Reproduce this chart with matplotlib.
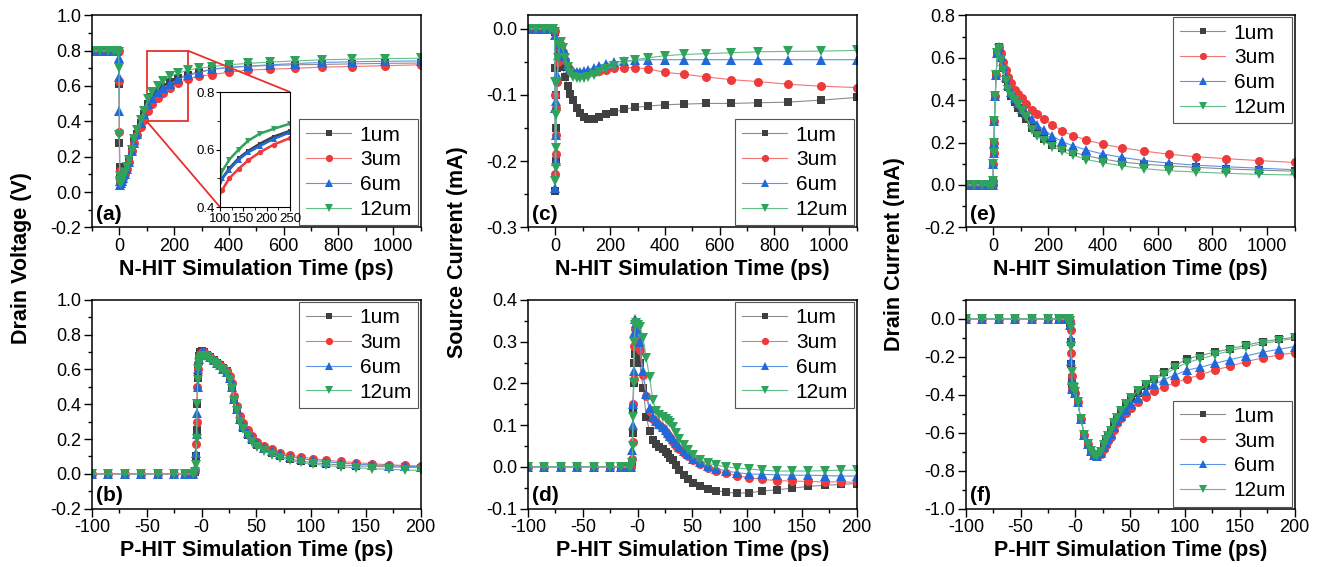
"""
Drain voltage / source current / drain current for N-HIT and P-HIT strikes
"""

# Imports:
import matplotlib
matplotlib.use('Agg')
import matplotlib.pyplot as plt
from matplotlib.ticker import MultipleLocator
from mpl_toolkits.axes_grid1.inset_locator import mark_inset

plt.rcParams['font.family'] = ['Liberation Sans', 'DejaVu Sans']
plt.rcParams['axes.unicode_minus'] = False

# Series styling
labels = ['1um', '3um', '6um', '12um']
colors = ['#404040', '#ee3a3a', '#2168d8', '#2fa35c']
line_colors = ['#8c8c8c', '#f27474', '#5d92e6', '#62bf87']
markers = ['s', 'o', '^', 'v']
marker_sizes = [6, 6.5, 7, 7]

# N-HIT time axis (ps)
t_n = [-100, -70, -40, -20, -8,
       -3, -1, 0, 1, 2,
       4, 7, 10, 15, 20,
       27, 35, 45, 55, 65,
       78, 90, 105, 120, 140,
       160, 185, 215, 250, 290,
       340, 400, 470, 550, 640,
       740, 850, 970, 1100]

# (a) drain voltage, N-HIT (V)
va_1 = [0.8, 0.8, 0.8, 0.8, 0.8,
        0.8, 0.61, 0.28, 0.14, 0.08,
        0.06, 0.06, 0.07, 0.09, 0.11,
        0.14, 0.18, 0.24, 0.29, 0.33,
        0.39, 0.44, 0.50, 0.535, 0.57,
        0.595, 0.62, 0.645, 0.665, 0.68,
        0.695, 0.705, 0.712, 0.716, 0.72,
        0.722, 0.725, 0.728, 0.73]
va_3 = [0.8, 0.8, 0.8, 0.8, 0.8,
        0.8, 0.63, 0.34, 0.12, 0.07,
        0.05, 0.05, 0.06, 0.08, 0.10,
        0.13, 0.17, 0.23, 0.28, 0.32,
        0.37, 0.41, 0.46, 0.50, 0.533,
        0.562, 0.59, 0.617, 0.64, 0.655,
        0.665, 0.678, 0.69, 0.695, 0.70,
        0.707, 0.71, 0.715, 0.72]
va_6 = [0.8, 0.8, 0.8, 0.8, 0.8,
        0.76, 0.65, 0.46, 0.10, 0.06,
        0.04, 0.05, 0.06, 0.08, 0.10,
        0.13, 0.17, 0.23, 0.28, 0.33,
        0.39, 0.44, 0.50, 0.53, 0.565,
        0.59, 0.612, 0.637, 0.66, 0.675,
        0.695, 0.705, 0.712, 0.72, 0.727,
        0.733, 0.737, 0.74, 0.742]
va_12 = [0.8, 0.8, 0.8, 0.8, 0.8,
         0.79, 0.70, 0.32, 0.09, 0.06,
         0.05, 0.05, 0.07, 0.09, 0.11,
         0.14, 0.18, 0.24, 0.30, 0.35,
         0.41, 0.46, 0.525, 0.565, 0.60,
         0.63, 0.655, 0.672, 0.69, 0.70,
         0.71, 0.72, 0.728, 0.735, 0.742,
         0.748, 0.752, 0.755, 0.757]

# (c) source current, N-HIT (mA)
ic_1 = [0, 0, 0, 0, 0,
        -0.005, -0.06, -0.245, -0.20, -0.15,
        -0.10, -0.06, -0.035, -0.025, -0.04,
        -0.058, -0.073, -0.087, -0.098, -0.108,
        -0.12, -0.128, -0.133, -0.136, -0.136,
        -0.133, -0.129, -0.126, -0.122, -0.119,
        -0.117, -0.115, -0.114, -0.113, -0.113,
        -0.112, -0.111, -0.108, -0.104]
ic_3 = [0, 0, 0, 0, 0,
        -0.003, -0.10, -0.22, -0.19, -0.16,
        -0.12, -0.08, -0.05, -0.03, -0.025,
        -0.035, -0.048, -0.058, -0.064, -0.067,
        -0.069, -0.069, -0.068, -0.067, -0.066,
        -0.064, -0.062, -0.060, -0.059, -0.059,
        -0.061, -0.066, -0.069, -0.073, -0.077,
        -0.080, -0.084, -0.087, -0.089]
ic_6 = [0, 0, 0, 0, 0,
        -0.01, -0.12, -0.24, -0.20, -0.16,
        -0.11, -0.07, -0.04, -0.025, -0.022,
        -0.03, -0.042, -0.053, -0.06, -0.064,
        -0.065, -0.065, -0.064, -0.062, -0.059,
        -0.056, -0.053, -0.051, -0.049, -0.048,
        -0.047, -0.047, -0.047, -0.047, -0.047,
        -0.047, -0.047, -0.047, -0.047]
ic_12 = [0, 0, 0, 0, 0,
         -0.005, -0.08, -0.23, -0.21, -0.18,
         -0.13, -0.08, -0.045, -0.025, -0.02,
         -0.03, -0.045, -0.058, -0.067, -0.073,
         -0.075, -0.075, -0.074, -0.073, -0.07,
         -0.066, -0.061, -0.056, -0.051, -0.047,
         -0.044, -0.041, -0.039, -0.038, -0.0365,
         -0.035, -0.0345, -0.034, -0.033]

# (e) drain current, N-HIT (mA)
ie_1 = [0, 0, 0, 0, 0,
        0.0, 0.02, 0.10, 0.15, 0.20,
        0.30, 0.42, 0.52, 0.62, 0.65,
        0.60, 0.55, 0.50, 0.46, 0.42,
        0.39, 0.365, 0.34, 0.31, 0.27,
        0.245, 0.215, 0.19, 0.173, 0.155,
        0.138, 0.122, 0.108, 0.098, 0.09,
        0.083, 0.076, 0.07, 0.065]
ie_3 = [0, 0, 0, 0, 0,
        0.0, 0.02, 0.10, 0.15, 0.20,
        0.30, 0.42, 0.52, 0.62, 0.65,
        0.62, 0.58, 0.54, 0.51, 0.48,
        0.45, 0.43, 0.41, 0.38, 0.355,
        0.335, 0.31, 0.285, 0.255, 0.233,
        0.212, 0.192, 0.175, 0.16, 0.145,
        0.133, 0.124, 0.115, 0.106]
ie_6 = [0, 0, 0, 0, 0,
        0.0, 0.02, 0.10, 0.15, 0.20,
        0.30, 0.42, 0.52, 0.62, 0.65,
        0.61, 0.56, 0.51, 0.47, 0.44,
        0.41, 0.385, 0.36, 0.34, 0.31,
        0.285, 0.26, 0.232, 0.205, 0.185,
        0.165, 0.146, 0.13, 0.115, 0.103,
        0.093, 0.086, 0.079, 0.072]
ie_12 = [0, 0, 0, 0, 0,
         0.0, 0.02, 0.10, 0.15, 0.20,
         0.30, 0.42, 0.52, 0.62, 0.64,
         0.59, 0.54, 0.49, 0.45, 0.42,
         0.40, 0.375, 0.35, 0.32, 0.26,
         0.23, 0.205, 0.181, 0.16, 0.14,
         0.12, 0.105, 0.09, 0.077, 0.067,
         0.061, 0.055, 0.05, 0.047]

# P-HIT time axis (ps)
t_p = [-100, -85, -70, -55, -40,
       -25, -15, -8, -6, -5,
       -4.5, -4, -3.5, -3, -2,
       -1, 0, 2, 5, 8,
       11, 14, 17, 20, 23,
       26, 28, 30, 32, 35,
       38, 42, 46, 51, 57,
       64, 72, 81, 91, 102,
       114, 127, 141, 156, 171,
       186, 200]

# (b) drain voltage, P-HIT (V)
vb_1 = [0, 0, 0, 0, 0,
        0, 0, 0, 0.01, 0.10,
        0.25, 0.40, 0.55, 0.62, 0.68,
        0.70, 0.705, 0.70, 0.685, 0.67,
        0.655, 0.64, 0.625, 0.61, 0.59,
        0.55, 0.50, 0.43, 0.37, 0.31,
        0.265, 0.225, 0.195, 0.165, 0.14,
        0.12, 0.10, 0.085, 0.073, 0.064,
        0.057, 0.051, 0.046, 0.043, 0.04,
        0.038, 0.036]
vb_3 = [0, 0, 0, 0, 0,
        0, 0, 0, 0.02, 0.17,
        0.30, 0.50, 0.60, 0.64, 0.67,
        0.69, 0.70, 0.70, 0.685, 0.67,
        0.655, 0.64, 0.625, 0.61, 0.59,
        0.56, 0.52, 0.45, 0.39, 0.33,
        0.29, 0.25, 0.215, 0.185, 0.16,
        0.14, 0.122, 0.108, 0.097, 0.087,
        0.078, 0.071, 0.064, 0.058, 0.052,
        0.048, 0.045]
vb_6 = [0, 0, 0, 0, 0,
        0, 0, 0, 0.03, 0.12,
        0.23, 0.35, 0.50, 0.60, 0.66,
        0.69, 0.70, 0.70, 0.685, 0.67,
        0.655, 0.64, 0.625, 0.605, 0.585,
        0.55, 0.50, 0.43, 0.37, 0.315,
        0.275, 0.235, 0.205, 0.175, 0.15,
        0.13, 0.112, 0.098, 0.087, 0.077,
        0.069, 0.062, 0.056, 0.051, 0.047,
        0.043, 0.04]
vb_12 = [0, 0, 0, 0, 0,
         0, 0, 0, 0.01, 0.05,
         0.20, 0.40, 0.54, 0.60, 0.64,
         0.66, 0.67, 0.675, 0.67, 0.655,
         0.64, 0.625, 0.61, 0.595, 0.575,
         0.54, 0.49, 0.42, 0.36, 0.30,
         0.255, 0.215, 0.185, 0.155, 0.13,
         0.11, 0.093, 0.078, 0.066, 0.056,
         0.048, 0.041, 0.035, 0.03, 0.026,
         0.022, 0.02]

# (d) source current, P-HIT (mA)
id_1 = [0, 0, 0, 0, 0,
        0, 0, 0, 0.0, 0.01,
        0.08, 0.14, 0.20, 0.25, 0.27,
        0.27, 0.265, 0.25, 0.19, 0.12,
        0.085, 0.064, 0.055, 0.048, 0.042,
        0.036, 0.03, 0.022, 0.016, 0.005,
        -0.008, -0.02, -0.03, -0.038, -0.046,
        -0.052, -0.057, -0.061, -0.063, -0.062,
        -0.058, -0.055, -0.051, -0.047, -0.044,
        -0.042, -0.04]
id_3 = [0, 0, 0, 0, 0,
        0, 0, 0, 0.0, 0.02,
        0.06, 0.15, 0.21, 0.29, 0.33,
        0.325, 0.31, 0.28, 0.22, 0.17,
        0.135, 0.115, 0.108, 0.10, 0.092,
        0.083, 0.076, 0.068, 0.06, 0.05,
        0.042, 0.033, 0.025, 0.016, 0.008,
        -0.002, -0.01, -0.015, -0.021, -0.026,
        -0.03, -0.033, -0.034, -0.035, -0.036,
        -0.036, -0.037]
id_6 = [0, 0, 0, 0, 0,
        0, 0, 0, 0.0, 0.04,
        0.10, 0.15, 0.23, 0.32, 0.355,
        0.345, 0.33, 0.30, 0.23, 0.175,
        0.14, 0.12, 0.11, 0.102, 0.095,
        0.088, 0.081, 0.073, 0.066, 0.056,
        0.047, 0.038, 0.03, 0.02, 0.011,
        0.003, -0.004, -0.01, -0.014, -0.017,
        -0.018, -0.019, -0.02, -0.02, -0.021,
        -0.022, -0.022]
id_12 = [0, 0, 0, 0, 0,
         0, 0, 0, 0.0, 0.01,
         0.05, 0.12, 0.20, 0.30, 0.34,
         0.345, 0.34, 0.335, 0.31, 0.26,
         0.215, 0.16, 0.135, 0.125, 0.12,
         0.115, 0.11, 0.104, 0.096, 0.08,
         0.066, 0.052, 0.04, 0.028, 0.017,
         0.009, 0.004, 0.0, -0.003, -0.005,
         -0.008, -0.01, -0.01, -0.01, -0.009,
         -0.008, -0.008]

# (f) drain current, P-HIT (mA)
if_1 = [0, 0, 0, 0, 0,
        0, 0, 0, 0.0, -0.02,
        -0.12, -0.24, -0.31, -0.37, -0.37,
        -0.375, -0.39, -0.44, -0.53, -0.61,
        -0.66, -0.695, -0.715, -0.72, -0.70,
        -0.665, -0.64, -0.615, -0.59, -0.55,
        -0.52, -0.485, -0.455, -0.42, -0.39,
        -0.355, -0.315, -0.28, -0.245, -0.21,
        -0.193, -0.176, -0.158, -0.138, -0.12,
        -0.107, -0.097]
if_3 = [0, 0, 0, 0, 0,
        0, 0, 0, 0.0, -0.01,
        -0.06, -0.18, -0.30, -0.37, -0.365,
        -0.37, -0.39, -0.44, -0.53, -0.61,
        -0.66, -0.695, -0.72, -0.725, -0.71,
        -0.685, -0.665, -0.645, -0.62, -0.585,
        -0.55, -0.52, -0.495, -0.47, -0.44,
        -0.41, -0.38, -0.36, -0.335, -0.315,
        -0.295, -0.27, -0.25, -0.225, -0.205,
        -0.19, -0.178]
if_6 = [0, 0, 0, 0, 0,
        0, 0, 0, 0.0, -0.03,
        -0.10, -0.22, -0.32, -0.37, -0.365,
        -0.37, -0.39, -0.44, -0.53, -0.61,
        -0.66, -0.695, -0.72, -0.725, -0.705,
        -0.675, -0.655, -0.63, -0.605, -0.57,
        -0.54, -0.51, -0.48, -0.45, -0.415,
        -0.38, -0.345, -0.32, -0.295, -0.27,
        -0.255, -0.235, -0.215, -0.195, -0.175,
        -0.16, -0.146]
if_12 = [0, 0, 0, 0, 0,
         0, 0, 0, 0.0, -0.01,
         -0.05, -0.15, -0.28, -0.36, -0.36,
         -0.365, -0.385, -0.44, -0.53, -0.61,
         -0.66, -0.695, -0.72, -0.725, -0.70,
         -0.665, -0.64, -0.615, -0.59, -0.55,
         -0.52, -0.485, -0.45, -0.415, -0.38,
         -0.35, -0.32, -0.295, -0.26, -0.23,
         -0.21, -0.19, -0.168, -0.148, -0.13,
         -0.115, -0.103]

# Bottom-row tick labels (as printed on the original)
p_ticks = [-100, -50, 0, 50, 100, 150, 200]
p_ticklabels = ['-100', '-50', '-0', '50', '100', '150', '200']


# Functions
def drawSeries(ax, t, series, scale=1.0, lw=0.8, lcols=line_colors):
    for ys, lab, col, lc, mk, ms in zip(series, labels, colors, lcols, markers, marker_sizes):
        ax.plot(t, ys, color=lc, lw=lw, marker=mk, ms=ms * scale, mfc=col, mew=0, label=lab)


def styleAxes(ax, ylim, ymajor, top_row, tag):
    ax.set_ylim(*ylim)
    ax.yaxis.set_major_locator(MultipleLocator(ymajor))
    ax.yaxis.set_minor_locator(MultipleLocator(ymajor / 2))
    if top_row:
        ax.set_xlim(-100, 1100)
        ax.set_xticks([0, 200, 400, 600, 800, 1000])
        ax.xaxis.set_minor_locator(MultipleLocator(100))
        ax.set_xlabel('N-HIT Simulation Time (ps)', fontsize=15.5, fontweight='bold', labelpad=3)
    else:
        ax.set_xlim(-100, 200)
        ax.set_xticks(p_ticks)
        ax.set_xticklabels(p_ticklabels)
        ax.xaxis.set_minor_locator(MultipleLocator(25))
        ax.set_xlabel('P-HIT Simulation Time (ps)', fontsize=15.5, fontweight='bold', labelpad=3)
    ax.tick_params(which='major', direction='out', length=5.5, width=1, labelsize=13, pad=2)
    ax.tick_params(which='minor', direction='out', length=3, width=1)
    for s in ax.spines.values():
        s.set_linewidth(1.1)
    ax.text(0.012, 0.015, tag, transform=ax.transAxes, fontsize=15, fontweight='bold',
            ha='left', va='bottom')


def addLegend(ax, loc):
    leg = ax.legend(loc=loc, fontsize=15, fancybox=False, framealpha=1, edgecolor='#555555',
                    handlelength=2.2, handletextpad=0.4, labelspacing=0.28,
                    borderpad=0.3, borderaxespad=0.1, markerscale=0.8)
    leg.get_frame().set_linewidth(0.8)


# Main:
fig = plt.figure(figsize=(13.22, 5.67), dpi=100)

lefts = [0.0696, 0.3994, 0.7307]
w = 0.2485
ax_a = fig.add_axes([lefts[0], 0.599, w, 0.374])
ax_c = fig.add_axes([lefts[1], 0.599, w, 0.374])
ax_e = fig.add_axes([lefts[2], 0.599, w, 0.374])
ax_b = fig.add_axes([lefts[0], 0.103, w, 0.368])
ax_d = fig.add_axes([lefts[1], 0.103, w, 0.368])
ax_f = fig.add_axes([lefts[2], 0.103, w, 0.368])

drawSeries(ax_a, t_n, [va_1, va_3, va_6, va_12])
drawSeries(ax_c, t_n, [ic_1, ic_3, ic_6, ic_12])
drawSeries(ax_e, t_n, [ie_1, ie_3, ie_6, ie_12])
drawSeries(ax_b, t_p, [vb_1, vb_3, vb_6, vb_12])
drawSeries(ax_d, t_p, [id_1, id_3, id_6, id_12])
drawSeries(ax_f, t_p, [if_1, if_3, if_6, if_12])

styleAxes(ax_a, (-0.2, 1.0), 0.2, True, '(a)')
styleAxes(ax_c, (-0.3, 0.02), 0.1, True, '(c)')
styleAxes(ax_e, (-0.2, 0.8), 0.2, True, '(e)')
styleAxes(ax_b, (-0.2, 1.0), 0.2, False, '(b)')
styleAxes(ax_d, (-0.1, 0.4), 0.1, False, '(d)')
styleAxes(ax_f, (-1.0, 0.1), 0.2, False, '(f)')

addLegend(ax_a, 'lower right')
addLegend(ax_c, 'lower right')
addLegend(ax_e, 'upper right')
addLegend(ax_b, 'upper right')
addLegend(ax_d, 'upper right')
addLegend(ax_f, 'lower right')

# Zoomed inset in (a)
axins = fig.add_axes([0.1664, 0.6349, 0.053, 0.2028])
drawSeries(axins, t_n, [va_1, va_3, va_6, va_12], scale=0.6, lw=1.8, lcols=colors)
axins.set_xlim(100, 250)
axins.set_ylim(0.4, 0.8)
axins.set_xticks([100, 150, 200, 250])
axins.set_yticks([0.4, 0.6, 0.8])
axins.xaxis.set_minor_locator(MultipleLocator(25))
axins.yaxis.set_minor_locator(MultipleLocator(0.1))
axins.tick_params(which='major', direction='out', length=3, labelsize=9.5, pad=1)
axins.tick_params(which='minor', direction='out', length=2)
mark_inset(ax_a, axins, loc1=1, loc2=3, fc='none', ec='#e8302c', lw=1.3)

# Shared y labels
fig.text(0.0166, 0.545, 'Drain Voltage (V)', rotation=90, fontsize=15.5, fontweight='bold',
         ha='center', va='center')
fig.text(0.3457, 0.555, 'Source Current (mA)', rotation=90, fontsize=15.5, fontweight='bold',
         ha='center', va='center')
fig.text(0.677, 0.552, 'Drain Current (mA)', rotation=90, fontsize=15.5, fontweight='bold',
         ha='center', va='center')

fig.savefig('out.png', dpi=100)
